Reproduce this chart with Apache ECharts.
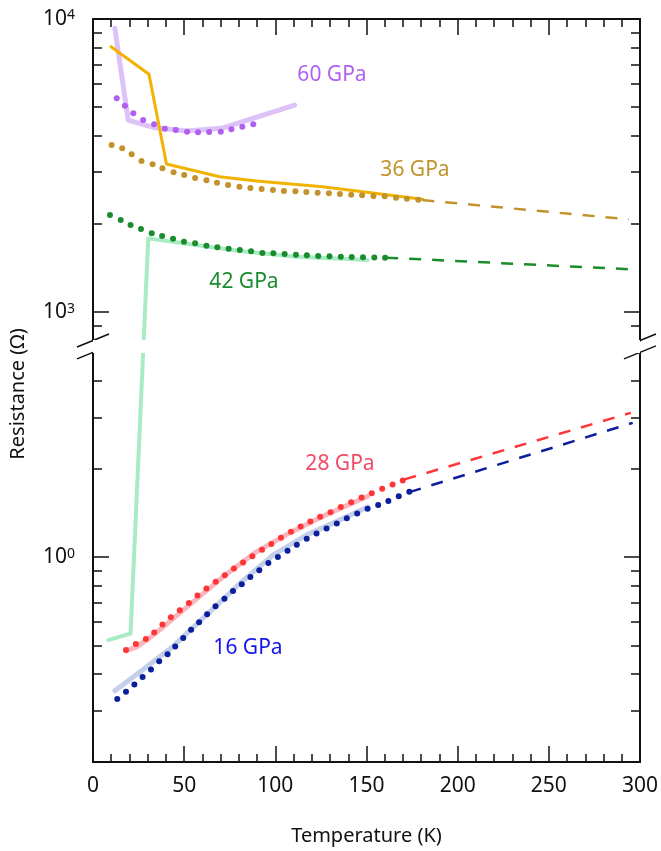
<!DOCTYPE html>
<html>
<head>
<meta charset="utf-8">
<script src="https://cdn.jsdelivr.net/npm/echarts@6/dist/echarts.min.js"></script>
<style>
  html, body { margin: 0; padding: 0; background: #fff; }
  #chart { width: 661px; height: 851px; }
</style>
</head>
<body>
<div id="chart"></div>
<script>
// Temperature ticks (K) and resistance ticks (Ohm)
const xMajorTicks = [0, 50, 100, 150, 200, 250, 300];
const yLabelTicks = [1, 1000, 10000];
const yMinorTicks = [0.2, 0.3, 0.4, 0.5, 0.6, 0.7, 0.8, 0.9, 2, 3, 4, 900, 2000, 3000, 4000, 5000, 6000, 7000, 8000, 9000];

// 60 GPa
const p60LineT = [12.0, 19.3, 33.0, 51.3, 70.5, 110.6];
const p60LineR = [9290, 4520, 4265, 4147, 4236, 5087];
const p60DotT = [13.0, 17.5, 22.1, 27.5, 33.5, 39.4, 45.4, 51.6, 57.6, 63.7, 70.1, 75.9, 81.9, 87.9];
const p60DotR = [5362, 5060, 4767, 4521, 4371, 4223, 4181, 4125, 4105, 4115, 4125, 4203, 4290, 4371];

// 36 GPa
const p36LineT = [9.9, 30.7, 40.3, 69.5, 89.6, 126.0, 180.8];
const p36LineR = [8044, 6475, 3200, 2895, 2799, 2677, 2424];
const p36DotT = [10.2, 16.0, 21.2, 26.6, 32.7, 38.1, 44.2, 50.0, 56.0, 62.2, 68.0, 74.1, 80.3, 86.3, 92.5,
                 98.7, 104.7, 111.0, 117.0, 123.2, 129.4, 135.4, 141.6, 147.6, 153.8, 160.0, 166.2, 172.2, 178.4];
const p36DotR = [3715, 3620, 3453, 3276, 3192, 3094, 2999, 2936, 2867, 2815, 2763, 2713, 2677, 2650, 2629,
                 2609, 2588, 2582, 2568, 2554, 2543, 2527, 2514, 2502, 2488, 2482, 2456, 2437, 2417];
const p36FitT = [180.6, 294];
const p36FitR = [2410, 2072];

// 42 GPa
const p42LineT = [8.4, 20.6, 30.3, 49.4, 80.5, 111.5, 150.7];
const p42LineR = [0.521, 0.549, 1784, 1716, 1615, 1544, 1505];
const p42DotT = [9.3, 15.2, 20.6, 26.3, 32.2, 37.9, 43.9, 49.9, 56.0, 62.2, 68.2, 74.4, 80.5, 86.7, 92.9,
                 98.9, 105.1, 111.3, 117.3, 123.5, 129.7, 135.9, 141.9, 148.1, 154.3, 160.2];
const p42DotR = [2144, 2061, 1982, 1920, 1857, 1818, 1779, 1738, 1716, 1684, 1663, 1644, 1628, 1611, 1590,
                 1586, 1578, 1570, 1562, 1553, 1550, 1545, 1541, 1538, 1536, 1533];
const p42FitT = [160.8, 295];
const p42FitR = [1533, 1399];

// 28 GPa
const p28LineT = [18.1, 23.9, 29.4, 38.5, 53.1, 71.3, 89.6, 107.8, 126.1, 150.7];
const p28LineR = [0.479, 0.494, 0.521, 0.578, 0.689, 0.857, 1.043, 1.210, 1.380, 1.615];
const p28DotT = [18.1, 23.5, 29.0, 33.6, 38.1, 42.7, 47.6, 52.6, 57.3, 62.2, 67.3, 72.3, 77.3, 82.3, 87.4,
                 92.7, 97.8, 103.1, 108.6, 113.9, 119.2, 124.6, 130.3, 135.9, 141.6, 147.3, 152.9, 158.6, 164.3, 169.9];
const p28DotR = [0.482, 0.505, 0.526, 0.553, 0.589, 0.624, 0.659, 0.697, 0.740, 0.782, 0.824, 0.868, 0.915, 0.959, 1.008,
                 1.059, 1.110, 1.164, 1.220, 1.273, 1.324, 1.373, 1.424, 1.484, 1.541, 1.599, 1.654, 1.711, 1.771, 1.827];
const p28FitT = [170.8, 295];
const p28FitR = [1.842, 3.108];

// 16 GPa
const p16LineT = [12.0, 25.7, 44.0, 62.2, 80.5, 98.7, 117.0, 135.2, 150.7];
const p16LineR = [0.350, 0.406, 0.497, 0.634, 0.813, 1.016, 1.189, 1.338, 1.484];
const p16DotT = [13.3, 18.1, 22.7, 27.2, 31.8, 36.3, 40.9, 45.1, 49.5, 53.8, 58.2, 62.6, 67.2, 72.1, 76.8, 81.6, 86.3,
                 91.2, 96.2, 101.4, 106.7, 111.8, 117.2, 122.6, 128.1, 133.7, 139.2, 144.9, 150.6, 156.4, 162.0, 167.7, 173.5];
const p16DotR = [0.328, 0.347, 0.368, 0.390, 0.414, 0.441, 0.466, 0.496, 0.530, 0.565, 0.600, 0.639, 0.680, 0.721, 0.766, 0.809, 0.855,
                 0.903, 0.956, 1.002, 1.051, 1.102, 1.155, 1.205, 1.253, 1.303, 1.359, 1.410, 1.462, 1.508, 1.556, 1.615, 1.671];
const p16FitT = [173.5, 296];
const p16FitR = [1.667, 2.873];

const FONT = '"Noto Sans", "Open Sans", sans-serif';
const zip = (xs, ys) => xs.map((x, i) => [x, ys[i]]);

const chart = echarts.init(document.getElementById('chart'));

function yAxisDef(position, ticks, tickLen, withLabels) {
  return {
    type: 'log',
    logBase: 10,
    min: 0.2,
    max: 10000,
    position: position,
    breaks: [{ start: 5, end: 800, gap: '1.6%' }],
    breakArea: {
      show: true,
      itemStyle: { color: '#fff', borderColor: '#fff', borderWidth: 0, opacity: 1 },
      zigzagAmplitude: 0,
      zigzagZ: 100,
      expandOnClick: false
    },
    axisLine: { show: true, lineStyle: { color: '#111', width: 2 } },
    axisTick: { show: true, inside: true, length: tickLen, customValues: ticks, lineStyle: { color: '#111', width: 1.5 } },
    minorTick: { show: false },
    splitLine: { show: false },
    axisLabel: withLabels ? {
      show: true,
      customValues: yLabelTicks,
      margin: 18,
      formatter: v => '{b|10}{s|' + Math.round(Math.log10(v)) + '}',
      rich: {
        b: { fontSize: 21, fontFamily: FONT, color: '#111' },
        s: { fontSize: 14, fontFamily: FONT, color: '#111', verticalAlign: 'top' }
      }
    } : { show: false }
  };
}

function xAxisDef(position, withLabels) {
  return {
    type: 'value',
    min: 0,
    max: 300,
    interval: 50,
    position: position,
    axisLine: { show: true, onZero: false, lineStyle: { color: '#111', width: 2 } },
    axisTick: { show: true, inside: true, length: 16, lineStyle: { color: '#111', width: 1.5 } },
    minorTick: { show: true, splitNumber: 5, length: 8, lineStyle: { color: '#111', width: 1.5 } },
    splitLine: { show: false },
    axisLabel: withLabels ? { show: true, fontSize: 21, fontFamily: FONT, color: '#111', margin: 14 } : { show: false },
    name: withLabels ? 'Temperature (K)' : '',
    nameLocation: 'middle',
    nameGap: 64,
    nameTextStyle: { fontSize: 20, fontFamily: FONT, color: '#111' }
  };
}

function band(data, color, width) {
  return { type: 'line', data: data, showSymbol: false, symbol: 'none', smooth: false,
           lineStyle: { color: color, width: width, cap: 'round', join: 'round' }, z: 2, silent: true };
}
function dots(data, color) {
  return { type: 'scatter', data: data, symbol: 'circle', symbolSize: 6,
           itemStyle: { color: color, opacity: 1 }, z: 4, silent: true };
}
function fit(data, color) {
  return { type: 'line', data: data, showSymbol: false, symbol: 'none',
           lineStyle: { color: color, width: 2.5, type: [12, 11] }, z: 3, silent: true };
}

const C60 = '#b05ff0', C60L = '#dcc2f7';
const C36 = '#c2932c', C36L = '#f2b200';
const C42 = '#1a8c2e', C42L = '#a9ebc3';
const C28 = '#ff3636', C28L = '#f9b6be', C28T = '#f24a66';
const C16 = '#0b1f9a', C16L = '#c4d0ea', C16T = '#1414ee';

function txt(x, y, s, color) {
  return { type: 'text', x: x, y: y, z: 50,
           style: { text: s, fill: color, font: '21px ' + FONT, textAlign: 'center', textVerticalAlign: 'middle' } };
}

chart.setOption({
  animation: false,
  backgroundColor: '#fff',
  grid: { left: 93, right: 20, top: 19, bottom: 89 },
  xAxis: [xAxisDef('bottom', true), xAxisDef('top', false)],
  yAxis: [
    yAxisDef('left', yLabelTicks, 16, true),
    yAxisDef('left', yMinorTicks, 9, false),
    yAxisDef('right', yLabelTicks, 16, false),
    yAxisDef('right', yMinorTicks, 9, false)
  ],
  series: [
    band(zip(p42LineT, p42LineR), C42L, 4),
    band(zip(p60LineT, p60LineR), C60L, 5),
    band(zip(p28LineT, p28LineR), C28L, 5),
    band(zip(p16LineT, p16LineR), C16L, 5),
    band(zip(p36LineT, p36LineR), C36L, 3),
    fit(zip(p36FitT, p36FitR), C36),
    fit(zip(p42FitT, p42FitR), C42),
    fit(zip(p28FitT, p28FitR), C28),
    fit(zip(p16FitT, p16FitR), C16),
    dots(zip(p60DotT, p60DotR), C60),
    dots(zip(p36DotT, p36DotR), C36),
    dots(zip(p42DotT, p42DotR), C42),
    dots(zip(p28DotT, p28DotR), C28),
    dots(zip(p16DotT, p16DotR), C16)
  ]
});

// Break marks ("//") on both vertical frame lines, at the two edges of the break
const yHi = chart.convertToPixel({ yAxisIndex: 0 }, 800);
const yLo = chart.convertToPixel({ yAxisIndex: 0 }, 5);
const xL = chart.convertToPixel({ xAxisIndex: 0 }, 0);
const xR = chart.convertToPixel({ xAxisIndex: 0 }, 300);
const graphics = [
  { type: 'text', x: 18, y: 394, rotation: Math.PI / 2, z: 50,
    style: { text: 'Resistance (Ω)', fill: '#111', font: '20px ' + FONT, textAlign: 'center', textVerticalAlign: 'middle' } },
  txt(332, 75, '60 GPa', C60),
  txt(415, 170, '36 GPa', C36),
  txt(244, 282, '42 GPa', C42),
  txt(340, 464, '28 GPa', C28T),
  txt(248, 648, '16 GPa', C16T)
];
[xL, xR].forEach(x => {
  graphics.push({ type: 'rect', z: 40, shape: { x: x - 3, y: yHi + 1, width: 6, height: yLo - yHi - 2 }, style: { fill: '#fff' } });
  [yHi, yLo].forEach(y => {
    graphics.push({ type: 'line', z: 41, shape: { x1: x - 16, y1: y + 6.5, x2: x + 16, y2: y - 6.5 },
                    style: { stroke: '#111', lineWidth: 1.5 } });
  });
});
chart.setOption({ graphic: graphics });
</script>
</body>
</html>
